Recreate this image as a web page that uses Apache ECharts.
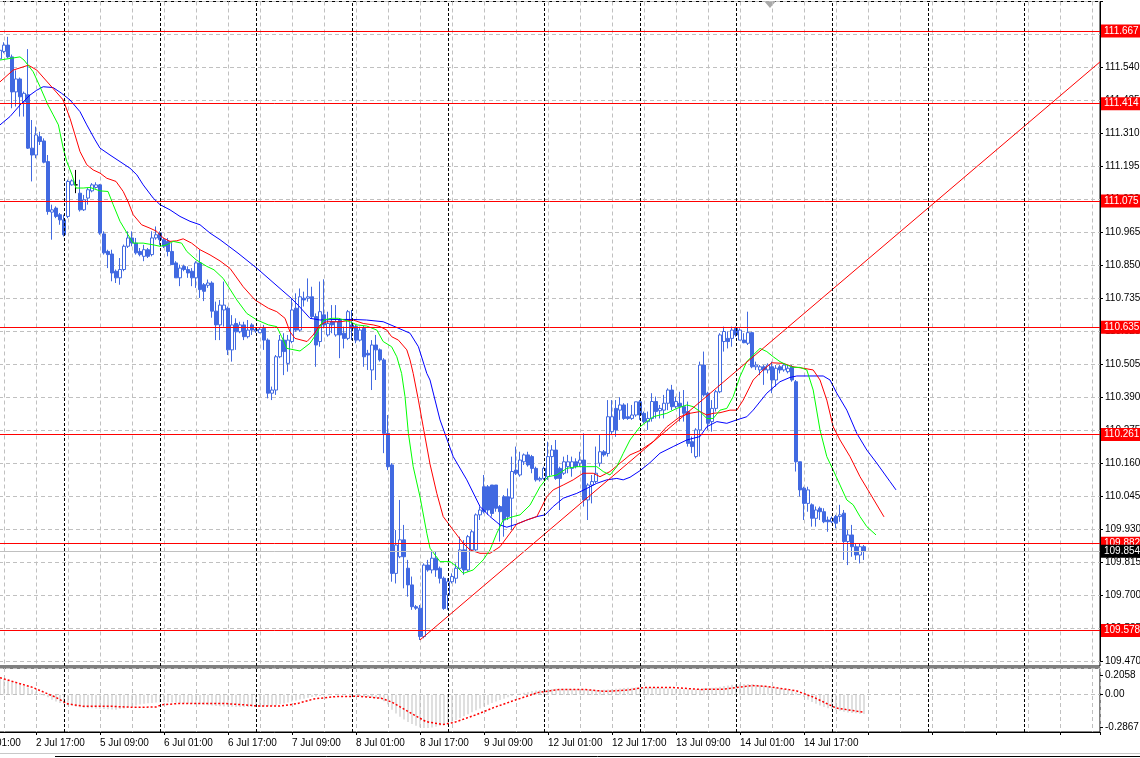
<!DOCTYPE html>
<html><head><meta charset="utf-8">
<script src="https://cdn.jsdelivr.net/npm/echarts@6/dist/echarts.min.js"></script>
<style>html,body{margin:0;padding:0;background:#fff}#c{width:1140px;height:758px}</style>
</head><body><div id="c"></div>
<script>
// ---------------- DATA ----------------
// H1 bars; bar index 0 = "2 Jul 17:00"; first visible bar index:
const FIRST_BAR = -9;
// [open, high, low, close]
const candleOHLC = [
[111.570,111.610,111.530,111.600],[111.596,111.628,111.590,111.618],[111.618,111.647,111.572,111.577],[111.577,111.585,111.398,111.455],[111.455,111.530,111.404,111.500],
[111.500,111.505,111.369,111.438],[111.420,111.456,111.369,111.450],[111.445,111.604,111.256,111.259],[111.259,111.357,111.143,111.235],[111.235,111.334,111.224,111.305],
[111.299,111.316,111.270,111.282],[111.284,111.293,111.206,111.210],[111.212,111.235,111.027,111.038],[111.036,111.062,110.940,111.044],[111.050,111.056,111.015,111.021],
[111.027,111.033,110.992,111.009],[111.009,111.027,110.951,110.957],[111.021,111.149,111.015,111.143],[111.131,111.150,111.128,111.145],[111.131,111.183,111.102,111.131],
[111.102,111.149,111.038,111.044],[111.044,111.096,111.040,111.079],[111.085,111.120,111.062,111.114],[111.110,111.137,111.105,111.131],[111.122,111.140,111.118,111.131],
[111.131,111.134,110.957,110.963],[110.960,110.969,110.888,110.894],[110.899,110.905,110.841,110.888],[110.890,110.905,110.795,110.824],[110.830,110.836,110.789,110.807],
[110.807,110.876,110.783,110.836],[110.836,110.923,110.830,110.917],[110.917,110.969,110.911,110.946],[110.946,110.969,110.917,110.928],[110.928,110.946,110.888,110.894],
[110.899,110.911,110.882,110.888],[110.882,110.922,110.865,110.905],[110.905,110.911,110.876,110.882],[110.888,110.969,110.882,110.946],[110.946,110.986,110.940,110.957],
[110.963,110.969,110.922,110.940],[110.940,110.946,110.911,110.917],[110.934,110.946,110.882,110.899],[110.899,110.928,110.853,110.853],[110.859,110.865,110.807,110.807],
[110.807,110.853,110.778,110.841],[110.847,110.853,110.830,110.836],[110.836,110.847,110.807,110.824],[110.830,110.841,110.778,110.807],[110.807,110.865,110.772,110.859],
[110.859,110.905,110.737,110.766],[110.783,110.789,110.726,110.760],[110.781,110.801,110.772,110.789],[110.789,110.795,110.668,110.691],[110.691,110.724,110.590,110.643],
[110.643,110.730,110.590,110.712],[110.695,110.794,110.637,110.712],[110.701,110.707,110.538,110.556],[110.556,110.677,110.515,110.643],[110.648,110.666,110.556,110.619],
[110.619,110.654,110.614,110.643],[110.643,110.654,110.590,110.602],[110.602,110.660,110.596,110.625],[110.643,110.649,110.608,110.625],[110.622,110.635,110.615,110.627],
[110.616,110.635,110.614,110.628],[110.631,110.643,110.556,110.590],[110.590,110.596,110.387,110.405],[110.405,110.428,110.381,110.416],[110.416,110.538,110.399,110.532],
[110.532,110.608,110.527,110.590],[110.590,110.614,110.468,110.550],[110.509,110.608,110.480,110.590],[110.585,110.736,110.579,110.695],[110.701,110.753,110.619,110.625],
[110.625,110.770,110.619,110.741],[110.736,110.759,110.707,110.730],[110.736,110.805,110.724,110.741],[110.741,110.776,110.666,110.672],[110.672,110.683,110.497,110.573],
[110.585,110.794,110.567,110.689],[110.678,110.802,110.631,110.643],[110.608,110.689,110.602,110.648],[110.654,110.712,110.614,110.643],[110.608,110.712,110.602,110.654],
[110.660,110.666,110.527,110.608],[110.614,110.637,110.561,110.596],[110.596,110.695,110.590,110.689],[110.643,110.695,110.590,110.631],[110.637,110.643,110.579,110.590],
[110.590,110.637,110.585,110.625],[110.631,110.639,110.497,110.532],[110.544,110.556,110.486,110.538],[110.486,110.590,110.416,110.573],[110.573,110.608,110.451,110.556],
[110.556,110.561,110.515,110.521],[110.521,110.527,110.196,110.265],[110.265,110.329,110.137,110.149],[110.155,110.161,109.748,109.777],[109.777,109.928,109.742,109.876],
[109.835,110.033,109.830,109.894],[109.894,109.946,109.725,109.835],[109.795,109.824,109.696,109.737],[109.737,109.766,109.650,109.661],[109.661,109.667,109.650,109.656],
[109.656,109.667,109.545,109.557],[109.557,109.812,109.551,109.806],[109.806,109.824,109.783,109.789],[109.789,109.853,109.777,109.830],[109.830,109.853,109.765,109.789],
[109.795,109.801,109.742,109.760],[109.760,109.766,109.650,109.655],[109.702,109.760,109.650,109.748],[109.748,109.777,109.742,109.766],[109.760,109.812,109.742,109.795],
[109.795,109.905,109.789,109.859],[109.859,109.893,109.772,109.789],[109.789,109.911,109.783,109.905],[109.859,109.928,109.853,109.922],[109.859,109.986,109.853,109.981],
[109.981,110.010,109.963,109.998],[110.079,110.120,109.986,109.992],[110.079,110.085,109.981,109.998],[110.085,110.085,109.975,109.986],[110.085,110.085,109.992,110.004],
[110.010,110.015,109.888,109.992],[110.044,110.050,109.905,109.963],[110.044,110.073,109.963,109.975],[110.039,110.184,109.928,110.132],[110.137,110.219,110.120,110.126],
[110.120,110.201,110.114,110.172],[110.166,110.195,110.155,110.190],[110.190,110.201,110.149,110.155],[110.184,110.190,110.126,110.143],[110.143,110.149,110.097,110.103],
[110.103,110.114,110.097,110.108],[110.108,110.149,110.103,110.143],[110.114,110.236,110.103,110.184],[110.184,110.224,110.120,110.207],[110.207,110.242,110.103,110.108],
[110.143,110.149,109.998,110.108],[110.126,110.184,110.120,110.166],[110.149,110.190,110.126,110.166],[110.143,110.184,110.114,110.166],[110.166,110.178,110.143,110.149],
[110.161,110.201,110.149,110.172],[110.172,110.265,110.010,110.033],[110.033,110.091,109.963,110.085],[110.085,110.120,110.021,110.097],[110.097,110.219,110.091,110.126],
[110.161,110.259,110.149,110.201],[110.201,110.207,110.184,110.190],[110.195,110.381,110.184,110.323],[110.271,110.381,110.259,110.323],[110.352,110.381,110.253,110.277],
[110.346,110.391,110.312,110.364],[110.364,110.370,110.312,110.317],[110.323,110.370,110.312,110.317],[110.317,110.364,110.312,110.329],[110.329,110.375,110.323,110.375],
[110.375,110.381,110.312,110.329],[110.335,110.341,110.300,110.306],[110.306,110.341,110.277,110.317],[110.317,110.405,110.306,110.376],[110.376,110.393,110.317,110.341],
[110.344,110.364,110.317,110.352],[110.346,110.399,110.317,110.370],[110.370,110.422,110.346,110.416],[110.416,110.434,110.346,110.358],[110.358,110.393,110.352,110.376],
[110.370,110.410,110.306,110.358],[110.358,110.416,110.306,110.335],[110.341,110.376,110.219,110.230],[110.236,110.254,110.196,110.219],[110.184,110.283,110.178,110.277],
[110.277,110.515,110.184,110.503],[110.503,110.550,110.393,110.399],[110.405,110.410,110.277,110.300],[110.306,110.381,110.271,110.352],[110.352,110.416,110.341,110.410],
[110.410,110.614,110.405,110.608],[110.585,110.637,110.550,110.620],[110.596,110.620,110.561,110.585],[110.596,110.637,110.567,110.625],[110.631,110.637,110.602,110.608],
[110.590,110.631,110.590,110.625],[110.590,110.614,110.579,110.581],[110.579,110.689,110.573,110.616],[110.616,110.619,110.492,110.497],[110.497,110.515,110.486,110.503],
[110.486,110.503,110.468,110.497],[110.497,110.503,110.434,110.486],[110.486,110.509,110.474,110.503],[110.497,110.515,110.405,110.451],[110.451,110.503,110.428,110.492],
[110.497,110.503,110.474,110.486],[110.486,110.509,110.480,110.503],[110.480,110.503,110.474,110.492],[110.497,110.503,110.445,110.451],[110.445,110.451,110.132,110.166],
[110.166,110.166,110.045,110.068],[110.074,110.079,109.963,110.021],[110.021,110.079,109.992,110.068],[110.016,110.021,109.940,109.969],[109.969,110.010,109.940,109.998],
[110.004,110.010,109.963,109.992],[109.992,110.004,109.952,109.957],[109.963,109.975,109.922,109.957],[109.957,109.975,109.952,109.969],[109.975,109.981,109.934,109.952],
[109.975,110.016,109.957,109.981],[109.987,109.998,109.824,109.888],[109.888,109.928,109.806,109.911],[109.911,109.946,109.835,109.870],[109.870,109.882,109.824,109.841],
[109.841,109.882,109.812,109.870],[109.870,109.876,109.824,109.854]
];
const dojiBars = [10];

// Alligator lines [bar, price]
const lipsPts = [[-9,111.566],[-4,111.577],[-3,111.566],[-0.7,111.525],[1,111.473],[3,111.409],[4.3,111.375],[5.6,111.340],[6.8,111.259],[7.7,111.212],[9,111.166],[10,111.120],[11.8,111.120],[13.5,111.122],[16,111.110],[18,111.108],[19.3,111.062],[21,111.004],[23,110.957],[24.3,110.928],[26.8,110.928],[29.3,110.922],[31,110.917],[32.7,110.922],[34.3,110.934],[36.4,110.928],[37.7,110.899],[40,110.870],[42.7,110.847],[44.5,110.835],[46.8,110.805],[50.2,110.730],[52.7,110.683],[55.25,110.660],[58.1,110.643],[60.2,110.637],[61.4,110.602],[62.75,110.561],[66,110.552],[68.5,110.579],[70.2,110.614],[71.8,110.660],[73.9,110.666],[75.6,110.666],[78.5,110.654],[80.2,110.643],[82.7,110.639],[85.2,110.625],[86.8,110.585],[88.9,110.567],[90.2,110.532],[91.4,110.474],[92.25,110.393],[93.1,110.265],[94.3,110.149],[96,110.044],[97.7,109.917],[98.5,109.865],[101,109.818],[103.5,109.818],[105.2,109.801],[106.8,109.777],[109.3,109.789],[111.8,109.824],[113.5,109.859],[115.2,109.917],[116.8,109.963],[119.3,109.975],[121,109.981],[123.5,110.015],[126,110.079],[128,110.114],[130.2,110.120],[132.7,110.143],[135.2,110.149],[137.7,110.149],[140.2,110.149],[141.8,110.132],[143.5,110.120],[145.2,110.149],[146.8,110.195],[148.5,110.242],[151,110.288],[154.3,110.323],[157.7,110.335],[160.2,110.352],[162.7,110.364],[164.3,110.358],[166,110.341],[167.7,110.317],[169.3,110.317],[171,110.346],[172.7,110.352],[174.3,110.393],[176,110.463],[177.7,110.515],[179.3,110.538],[181,110.561],[182.7,110.550],[184.3,110.532],[186,110.515],[187.7,110.503],[189.3,110.495],[191,110.495],[192.7,110.486],[194.3,110.416],[196,110.277],[197.7,110.184],[199.3,110.137],[201,110.085],[202.7,110.033],[204.3,110.016],[206,109.975],[207.7,109.940],[210,109.911]];
const teethPts = [[-9,111.490],[-5.7,111.531],[-1.9,111.548],[0.2,111.531],[3.5,111.479],[6.8,111.427],[8.5,111.363],[9.75,111.305],[11,111.247],[12.7,111.201],[14.3,111.183],[16,111.172],[17.7,111.154],[20,111.143],[21.8,111.108],[23,111.073],[24.3,111.027],[26.4,110.992],[28.5,110.980],[30.2,110.969],[31.8,110.946],[33.5,110.934],[35.2,110.936],[36.8,110.943],[38.9,110.928],[41,110.905],[43.5,110.887],[46,110.866],[48.5,110.840],[51.8,110.776],[54.75,110.730],[58.1,110.701],[60.2,110.689],[62.25,110.666],[63.5,110.619],[64.75,110.596],[67.75,110.585],[69.3,110.608],[71,110.643],[72.7,110.654],[76,110.654],[79.3,110.660],[81.8,110.648],[84.3,110.643],[86,110.637],[87.7,110.625],[88.9,110.602],[90.6,110.590],[92.7,110.556],[93.5,110.521],[94.3,110.474],[95.6,110.381],[96.8,110.288],[98.5,110.158],[100.2,110.056],[101.8,109.975],[104.3,109.928],[106.8,109.882],[108.5,109.859],[111,109.847],[113.5,109.847],[116,109.870],[118.5,109.917],[120.2,109.949],[122.7,109.963],[125.2,109.975],[127.7,110.044],[129.3,110.068],[131.8,110.085],[134.3,110.103],[136.8,110.126],[139.3,110.126],[141,110.114],[143.5,110.132],[146,110.161],[148.5,110.190],[151,110.205],[154.3,110.236],[157.7,110.288],[161,110.323],[163.5,110.335],[166,110.341],[167.7,110.329],[169.3,110.335],[171,110.337],[173.5,110.346],[175.2,110.346],[176.8,110.381],[179.3,110.451],[181.8,110.486],[183.9,110.511],[186.8,110.509],[189.3,110.497],[191.8,110.492],[194.3,110.486],[196,110.451],[197.7,110.381],[199.3,110.288],[201,110.242],[203.5,110.184],[206,110.114],[208.5,110.056],[212,109.974]];
const jawPts = [[-9,111.340],[-6.5,111.369],[-4,111.409],[-1.5,111.444],[0.2,111.461],[1.8,111.473],[4.3,111.470],[6.4,111.450],[8.5,111.427],[11,111.386],[12.7,111.340],[14.75,111.288],[16,111.259],[18.5,111.235],[21,111.212],[23.5,111.189],[25.2,111.166],[26.8,111.131],[29.3,111.085],[31,111.062],[33.5,111.044],[36,111.021],[38.5,111.004],[41,110.992],[43.5,110.963],[46,110.940],[50.5,110.893],[55.25,110.840],[60.5,110.776],[63.8,110.736],[65.5,110.712],[68.5,110.666],[71,110.660],[75,110.662],[79.3,110.662],[82.6,110.660],[86.8,110.654],[90.2,110.634],[93.5,110.614],[95.6,110.567],[97.7,110.474],[98.5,110.451],[101,110.312],[104.3,110.184],[107.7,110.103],[111,110.010],[113.5,109.975],[116,109.946],[117.7,109.938],[120.2,109.949],[122.7,109.963],[125.2,109.975],[127.25,109.981],[129.3,110.010],[131.8,110.039],[135.2,110.056],[137.7,110.073],[140.2,110.091],[142.7,110.103],[145.2,110.108],[146.8,110.103],[148.5,110.112],[151,110.135],[153.5,110.163],[156,110.196],[159.3,110.219],[162.7,110.242],[166,110.254],[167.7,110.288],[170.2,110.306],[172.7,110.300],[175.2,110.312],[177.7,110.323],[179.3,110.346],[182.7,110.405],[186,110.445],[188.5,110.460],[190.2,110.465],[192.7,110.465],[196.8,110.465],[198.5,110.451],[200.2,110.405],[202.7,110.346],[205.2,110.265],[207.7,110.207],[210.2,110.161],[213.5,110.097],[215,110.068]];

// Oscillator (MACD): histogram per bar, signal line points
const macdHist = [
0.125,0.118,0.110,0.100,0.090,0.080,0.068,0.055,0.040,0.025,
0.010,-0.005,-0.020,-0.038,-0.052,-0.063,-0.072,-0.080,-0.086,-0.092,
-0.097,-0.100,-0.103,-0.104,-0.105,-0.107,-0.110,-0.112,-0.114,-0.115,
-0.110,-0.105,-0.098,-0.090,-0.083,-0.076,-0.070,-0.066,-0.063,-0.060,
-0.058,-0.057,-0.058,-0.060,-0.062,-0.064,-0.066,-0.068,-0.070,-0.072,
-0.074,-0.077,-0.080,-0.083,-0.086,-0.088,-0.090,-0.092,-0.093,-0.094,
-0.095,-0.095,-0.094,-0.093,-0.092,-0.092,-0.090,-0.088,-0.085,-0.080,
-0.074,-0.068,-0.060,-0.052,-0.044,-0.036,-0.030,-0.024,-0.018,-0.013,
-0.009,-0.006,-0.003,-0.001,0.001,0.002,0.001,-0.001,-0.003,-0.006,
-0.010,-0.014,-0.018,-0.022,-0.027,-0.033,-0.050,-0.075,-0.115,-0.145,
-0.170,-0.190,-0.210,-0.225,-0.238,-0.250,-0.255,-0.256,-0.252,-0.246,
-0.238,-0.230,-0.220,-0.208,-0.195,-0.180,-0.165,-0.150,-0.135,-0.120,
-0.105,-0.090,-0.077,-0.064,-0.052,-0.040,-0.030,-0.020,-0.010,0.000,
0.008,0.015,0.022,0.028,0.033,0.037,0.040,0.043,0.045,0.046,
0.047,0.047,0.046,0.045,0.044,0.043,0.042,0.040,0.038,0.037,
0.037,0.038,0.040,0.043,0.046,0.049,0.051,0.053,0.054,0.055,
0.056,0.056,0.055,0.054,0.053,0.052,0.050,0.048,0.046,0.045,
0.044,0.043,0.041,0.039,0.040,0.045,0.050,0.052,0.054,0.056,
0.062,0.068,0.072,0.076,0.079,0.081,0.082,0.082,0.080,0.077,
0.073,0.069,0.065,0.060,0.055,0.050,0.045,0.040,0.034,0.020,
0.002,-0.018,-0.038,-0.055,-0.070,-0.083,-0.094,-0.103,-0.111,-0.118,
-0.124,-0.130,-0.136,-0.140,-0.143,-0.146,-0.148
];
const signalPts = [[-9,0.131],[-0.8,0.056],[4.9,-0.019],[7.7,-0.069],[11.9,-0.089],[18.9,-0.089],[24.5,-0.097],[30,-0.094],[31.5,-0.077],[35.8,-0.067],[47,-0.067],[52.6,-0.079],[55.4,-0.087],[61,-0.087],[65.2,-0.069],[69.5,-0.032],[75,-0.014],[80.7,-0.012],[86.3,-0.027],[89,-0.057],[93.2,-0.132],[97.5,-0.207],[101.7,-0.229],[104.5,-0.214],[110.2,-0.152],[114.4,-0.099],[120,-0.039],[125.6,0.018],[131,0.041],[136.8,0.041],[142.4,0.026],[148,0.036],[152,0.056],[159,0.056],[166,0.041],[171.9,0.043],[179,0.071],[183,0.063],[190,0.031],[194.4,-0.019],[200,-0.102],[207,-0.135]];
const oscMax = 0.2058, oscMin = -0.2867;

// Time axis labels (bar index -> text)
const timeLabelBars = [-16,0,16,32,48,64,80,96,112,128,144,160,176,192];
const timeLabels = ['2 Jul 01:00','2 Jul 17:00','5 Jul 09:00','6 Jul 01:00','6 Jul 17:00','7 Jul 09:00','8 Jul 01:00','8 Jul 17:00','9 Jul 09:00','12 Jul 01:00','12 Jul 17:00','13 Jul 09:00','14 Jul 01:00','14 Jul 17:00'];
const dayStartBars = [7,31,55,79,103,127,151,175,199,223,247];

// Price axis tick labels (bottom to top)
const priceTicks = ['109.470','109.585','109.700','109.815','109.930','110.045','110.160','110.275','110.390','110.505','110.620','110.735','110.850','110.965','111.080','111.195','111.310','111.425','111.540','111.655'];
const levelPrices = [111.667,111.414,111.075,110.635,110.261,109.882,109.578];
const bidPrice = 109.854;
const trendPts = [[96,109.545],[266,111.5596]];

// ---------------- CHART ----------------
const FONT = 'Liberation Sans';
const X_MIN = -32, X_MAX = 266;
const gridGray = '#c0c0c0';
const dash = [4,3];
const blue = '#4169e1';

const candleData = candleOHLC.map((r, i) => {
  const j = FIRST_BAR + i;
  const item = { value: [j, r[0], r[3], r[2], r[1]] };
  if (dojiBars.includes(j)) item.itemStyle = { color: '#000', color0: '#000', borderColor: '#000', borderColor0: '#000' };
  return item;
});
const histData = macdHist.map((v, i) => [FIRST_BAR + i, v]);
const labelMap = {};
timeLabelBars.forEach((b, i) => labelMap[b] = timeLabels[i]);

const sepMarks = dayStartBars.map(b => ({ xAxis: b }));
const sepLine = { silent: true, symbol: 'none', animation: false,
  lineStyle: { color: '#000', type: [3, 2], width: 1 }, label: { show: false }, data: sepMarks };

const levelMarks = levelPrices.map(p => ({
  yAxis: p, lineStyle: { color: '#ff0000', type: 'solid', width: 1 },
  label: { formatter: p.toFixed(3), backgroundColor: '#ff0000' }
}));
levelMarks.push({ yAxis: bidPrice, lineStyle: { color: '#c0c0c0', type: 'solid', width: 1 },
  label: { formatter: bidPrice.toFixed(3), backgroundColor: '#000' } });

const gridBase = { left: -92, width: 1192, containLabel: false, outerBoundsMode: 'none' };
const noZero = { onZero: false };

const chart = echarts.init(document.getElementById('c'), null, { renderer: 'canvas' });
chart.setOption({
  animation: false,
  backgroundColor: '#fff',
  textStyle: { fontFamily: FONT },
  grid: [
    Object.assign({}, gridBase, { top: 1.5, height: 664.5, show: true, borderColor: '#000', borderWidth: 1, backgroundColor: 'transparent' }),
    Object.assign({}, gridBase, { top: 1.5, height: 660 }),
    Object.assign({}, gridBase, { top: 668, height: 64, show: true, borderColor: '#000', borderWidth: 1, backgroundColor: 'transparent' }),
    Object.assign({}, gridBase, { top: 675, height: 52 })
  ],
  xAxis: [
    { gridIndex: 0, type: 'value', min: X_MIN, max: X_MAX, interval: 8, position: 'bottom',
      axisLine: { show: false, onZero: false }, axisTick: { show: false }, axisLabel: { show: false },
      splitLine: { show: true, lineStyle: { color: gridGray, type: dash } } },
    { gridIndex: 1, type: 'value', min: X_MIN, max: X_MAX, show: false, axisLine: { onZero: false } },
    { gridIndex: 2, type: 'value', min: X_MIN, max: X_MAX, interval: 8, position: 'top',
      axisLine: { show: false, onZero: false }, axisTick: { show: false }, axisLabel: { show: false },
      splitLine: { show: true, lineStyle: { color: gridGray, type: dash } } },
    { gridIndex: 2, type: 'value', min: X_MIN, max: X_MAX, interval: 16, position: 'bottom',
      axisLine: { show: true, onZero: false, lineStyle: { color: '#000', width: 1 } },
      axisTick: { show: true, length: 3, lineStyle: { color: '#000' } },
      splitLine: { show: false },
      axisLabel: { show: true, margin: 6, align: 'left', fontSize: 10, color: '#000', fontFamily: FONT,
        hideOverlap: false, showMinLabel: true, showMaxLabel: true,
        formatter: v => labelMap[Math.round(v)] || '' } },
    { gridIndex: 3, type: 'value', min: X_MIN, max: X_MAX, show: false, axisLine: { onZero: false } }
  ],
  yAxis: [
    { gridIndex: 0, type: 'value', min: 109.45432, max: 111.77, show: false, axisLine: { onZero: false }, splitLine: { show: false } },
    { gridIndex: 1, type: 'value', min: 0, max: 20, interval: 1, position: 'right',
      axisLine: { show: true, onZero: false, lineStyle: { color: '#000' } },
      axisTick: { show: true, length: 3, lineStyle: { color: '#000' } },
      splitLine: { show: true, lineStyle: { color: gridGray, type: dash } },
      axisLabel: { margin: 5, fontSize: 10, color: '#000', fontFamily: FONT, hideOverlap: false,
        formatter: v => priceTicks[Math.round(v)] || '' } },
    { gridIndex: 2, type: 'value', min: oscMin, max: oscMax, interval: 0.2867,
      axisLine: { show: false, onZero: false }, axisTick: { show: false }, axisLabel: { show: false },
      splitLine: { show: true, lineStyle: { color: gridGray, type: dash } } },
    { gridIndex: 3, type: 'value', min: 0, max: 52, interval: 32.3, position: 'right',
      axisLine: { show: false, onZero: false }, splitLine: { show: false },
      axisTick: { show: true, length: 3, lineStyle: { color: '#000' } },
      axisLabel: { margin: 5, fontSize: 10, color: '#000', fontFamily: FONT, hideOverlap: false,
        formatter: v => (v === 0 ? oscMin.toFixed(4) : (Math.abs(v - 52) < 0.01 ? oscMax.toFixed(4) : '0.00')) } }
  ],
  series: [
    { type: 'candlestick', xAxisIndex: 0, yAxisIndex: 0, data: candleData, barWidth: 3,
      encode: { x: 0, y: [1, 2, 3, 4] }, silent: true,
      itemStyle: { color: '#ffffff', color0: blue, borderColor: blue, borderColor0: blue, borderWidth: 1 },
      markLine: sepLine, z: 2 },
    { type: 'line', xAxisIndex: 0, yAxisIndex: 0, data: jawPts, showSymbol: false, symbol: 'none', silent: true,
      lineStyle: { color: '#0000ff', width: 1 }, z: 3 },
    { type: 'line', xAxisIndex: 0, yAxisIndex: 0, data: teethPts, showSymbol: false, symbol: 'none', silent: true,
      lineStyle: { color: '#ff0000', width: 1 }, z: 3 },
    { type: 'line', xAxisIndex: 0, yAxisIndex: 0, data: lipsPts, showSymbol: false, symbol: 'none', silent: true,
      lineStyle: { color: '#00ff00', width: 1 }, z: 3 },
    { type: 'line', xAxisIndex: 0, yAxisIndex: 0, data: trendPts, showSymbol: false, symbol: 'none', silent: true,
      clip: false, lineStyle: { color: '#ff0000', width: 1 }, z: 4,
      markLine: { silent: true, symbol: 'none', animation: false, precision: 3,
        label: { show: true, position: 'end', distance: 1, color: '#fff', fontSize: 10, fontFamily: FONT,
          padding: [2, 3, 1, 3] },
        data: levelMarks } },
    { type: 'bar', xAxisIndex: 2, yAxisIndex: 2, data: histData, barWidth: 1, silent: true,
      itemStyle: { color: '#c0c0c0' }, markLine: sepLine, z: 2 },
    { type: 'line', xAxisIndex: 2, yAxisIndex: 2, data: signalPts, showSymbol: false, symbol: 'none', silent: true,
      lineStyle: { color: '#ff0000', width: 1.5, type: [2, 2] }, z: 3 }
  ],
  graphic: [
    { type: 'polygon', shape: { points: [[764, 1], [776, 1], [770, 8]] }, style: { fill: '#a9a9a9' }, silent: true },
    { type: 'line', shape: { x1: 0, y1: 753.5, x2: 1140, y2: 753.5 }, style: { stroke: '#c8c8c8', lineWidth: 1 }, silent: true },
    { type: 'line', shape: { x1: 55, y1: 756.5, x2: 1140, y2: 756.5 }, style: { stroke: '#000', lineWidth: 1 }, silent: true }
  ]
});
</script>
</body></html>
